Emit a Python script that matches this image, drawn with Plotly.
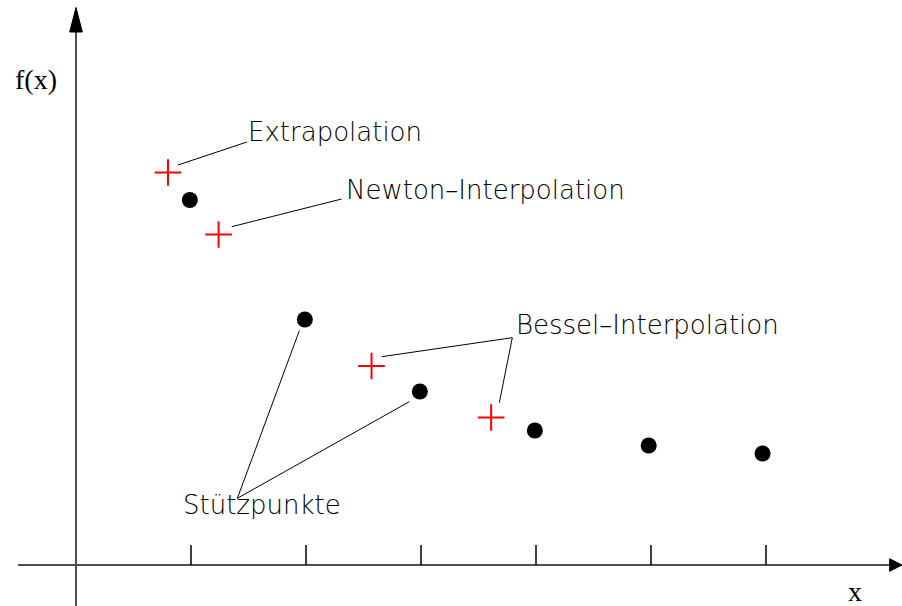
import plotly.graph_objects as go

# Support points (Stützpunkte)
support_x = [0.99, 1.99, 2.99, 3.99, 4.98, 5.97]
support_y = [7.30, 4.91, 3.47, 2.69, 2.39, 2.23]

# Interpolated / extrapolated values
cross_x = [0.80, 1.24, 2.57, 3.61]
cross_y = [7.85, 6.61, 3.98, 2.95]

# Axis tick positions
tick_vals = [1, 2, 3, 4, 5, 6]

# Callout labels: text, anchor position, leader line segments
labels = ["Extrapolation", "Newton\u2013Interpolation", "Bessel\u2013Interpolation", "Stützpunkte"]
label_x = [1.478, 2.330, 3.808, 0.912]
label_y = [8.666, 7.51, 4.806, 1.20]
leaders = [
    [(0.887, 8.00), (1.487, 8.46)],
    [(1.354, 6.766), (2.310, 7.32)],
    [(2.658, 4.166), (3.794, 4.546), (3.681, 3.246)],
    [(1.942, 4.686), (1.403, 1.334), (2.898, 3.266)],
]

X_RANGE = [-0.6609, 7.1826]
Y_RANGE = [-0.82, 11.3]

fig = go.Figure()

# leader lines
for seg in leaders:
    fig.add_trace(go.Scatter(
        x=[p[0] for p in seg], y=[p[1] for p in seg],
        mode="lines", line=dict(color="black", width=1),
        hoverinfo="skip", showlegend=False))

# support points
fig.add_trace(go.Scatter(
    x=support_x, y=support_y, mode="markers",
    marker=dict(color="black", size=16), showlegend=False))

# interpolation crosses
fig.add_trace(go.Scatter(
    x=cross_x, y=cross_y, mode="markers",
    marker=dict(symbol="cross-thin", size=19, line=dict(color="red", width=2)),
    showlegend=False))

axis_col = "#4d4d4d"
shapes = [
    # y axis with arrow
    dict(type="line", x0=0, x1=0, y0=Y_RANGE[0], y1=10.70,
         line=dict(color=axis_col, width=2)),
    dict(type="path", path="M -0.055 10.66 L 0.055 10.66 L 0 11.15 Z",
         fillcolor="black", line=dict(color="black", width=1)),
    # x axis with arrow
    dict(type="line", x0=-0.504, x1=7.09, y0=0, y1=0,
         line=dict(color=axis_col, width=2)),
    dict(type="path", path="M 7.075 -0.125 L 7.075 0.125 L 7.183 0 Z",
         fillcolor="black", line=dict(color="black", width=1)),
]
for t in tick_vals:
    shapes.append(dict(type="line", x0=t, x1=t, y0=0, y1=0.40,
                       line=dict(color="black", width=1.5)))

annotations = []
for txt, lx, ly in zip(labels, label_x, label_y):
    annotations.append(dict(
        x=lx, y=ly, text=txt, showarrow=False, xanchor="left", yanchor="middle",
        font=dict(family="DejaVu Sans", size=26, weight=200, color="black")))
annotations.append(dict(x=-0.352, y=9.72, text="f(x)", showarrow=False,
                        font=dict(family="Liberation Serif", size=28, color="black")))
annotations.append(dict(x=6.778, y=-0.52, text="x", showarrow=False,
                        font=dict(family="Liberation Serif", size=28, color="black")))

fig.update_layout(
    width=902, height=606,
    margin=dict(l=0, r=0, t=0, b=0),
    paper_bgcolor="white", plot_bgcolor="white",
    xaxis=dict(range=X_RANGE, visible=False, fixedrange=True),
    yaxis=dict(range=Y_RANGE, visible=False, fixedrange=True),
    shapes=shapes, annotations=annotations,
)

fig.write_html("out.html")
